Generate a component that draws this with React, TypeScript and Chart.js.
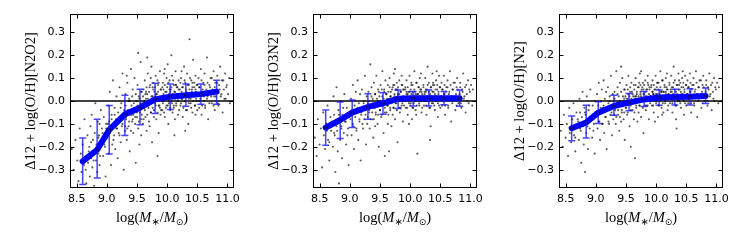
import { useEffect, useRef } from "react";
import { Chart, registerables } from "chart.js";
Chart.register(...registerables);

// ---- axes ----
const xMin = 8.39;
const xMax = 11.11;
const yMin = -0.38;
const yMax = 0.38;
const xTicks = [8.5, 9.0, 9.5, 10.0, 10.5, 11.0];
const yTicks = [-0.3, -0.2, -0.1, 0.0, 0.1, 0.2, 0.3];

// ---- binned medians (same mass bins for all panels) ----
const massBins = [8.6, 8.84, 9.04, 9.3, 9.55, 9.8, 10.05, 10.31, 10.56, 10.82];

const n2o2Median = [-0.264, -0.213, -0.126, -0.058, -0.029, 0.007, 0.019, 0.025, 0.03, 0.041];
const n2o2Low = [-0.365, -0.336, -0.232, -0.151, -0.104, -0.055, -0.037, -0.023, -0.014, -0.014];
const n2o2High = [-0.162, -0.08, -0.02, 0.025, 0.051, 0.077, 0.074, 0.074, 0.074, 0.091];

const o3n2Median = [-0.116, -0.083, -0.051, -0.026, -0.01, 0.01, 0.012, 0.012, 0.012, 0.012];
const o3n2Low = [-0.193, -0.164, -0.116, -0.08, -0.058, -0.033, -0.022, -0.022, -0.016, -0.023];
const o3n2High = [-0.039, -0.004, 0.004, 0.032, 0.036, 0.048, 0.042, 0.048, 0.042, 0.048];

const n2Median = [-0.119, -0.094, -0.051, -0.022, -0.007, 0.007, 0.015, 0.017, 0.019, 0.022];
const n2Low = [-0.174, -0.162, -0.098, -0.062, -0.043, -0.024, -0.019, -0.017, -0.017, -0.011];
const n2High = [-0.065, -0.019, -0.003, 0.025, 0.033, 0.042, 0.048, 0.051, 0.054, 0.057];

// ---- individual galaxies (x, y pairs, flat): scattered envelope ----
const n2o2Cloud = [
  8.42,-0.21,8.45,-0.30,8.48,-0.17,8.51,-0.26,8.53,-0.35,8.55,-0.12,8.57,-0.23,8.58,-0.31,8.60,-0.19,8.62,-0.28,8.63,-0.08,8.65,-0.24,8.66,-0.36,8.68,-0.15,8.69,-0.27,
  8.71,-0.20,8.72,-0.33,8.73,-0.11,8.74,-0.25,8.75,-0.06,8.76,-0.29,8.77,-0.17,8.78,-0.22,8.79,-0.37,8.80,-0.14,8.81,-0.01,8.82,-0.26,8.83,-0.19,8.84,-0.31,8.85,-0.09,8.86,-0.23,8.87,-0.15,8.88,-0.28,8.90,-0.04,8.91,-0.18,8.92,-0.12,8.94,-0.24,8.95,-0.07,8.97,-0.20,8.98,-0.33,8.99,-0.10,
  9.01,-0.16,9.02,-0.02,9.03,-0.23,9.04,-0.09,9.05,0.04,9.06,-0.13,9.07,-0.28,9.08,-0.06,9.09,-0.19,9.10,0.09,9.11,-0.11,9.12,-0.15,9.13,-0.03,9.14,-0.21,9.15,-0.08,9.16,0.02,9.17,-0.12,9.18,-0.25,9.19,-0.05,9.20,-0.14,9.21,0.06,9.22,-0.09,9.23,-0.18,9.24,-0.01,9.25,-0.11,9.26,0.12,9.27,-0.07,9.28,-0.30,9.29,-0.04,9.30,-0.13,
  9.31,0.03,9.32,-0.08,9.33,-0.17,9.34,0.08,9.35,-0.04,9.36,-0.11,9.37,0.01,9.38,-0.22,9.39,-0.06,9.40,0.14,9.41,-0.02,9.42,-0.09,9.43,0.05,9.44,-0.14,9.45,-0.03,9.46,0.10,9.47,-0.07,9.48,-0.27,9.49,0.00,9.50,-0.05,9.51,0.07,9.52,-0.12,9.53,0.02,9.54,-0.19,9.55,-0.04,9.56,0.17,9.57,-0.08,9.58,0.04,9.59,-0.01,9.60,-0.10,9.33,0.11,9.44,-0.06,9.52,0.21,9.38,0.00,9.57,-0.15,
  9.61,0.05,9.62,-0.03,9.63,0.09,9.64,-0.07,9.65,0.01,9.66,-0.13,9.67,0.03,9.68,0.12,9.69,-0.02,9.70,-0.09,9.71,0.06,9.72,0.00,9.73,-0.05,9.74,0.15,9.75,-0.18,9.76,0.02,9.77,0.08,9.78,-0.04,9.79,0.04,9.80,-0.01,9.81,0.11,9.82,-0.08,9.83,0.03,9.84,-0.24,9.85,0.07,9.86,-0.02,9.87,0.01,9.88,0.13,9.89,-0.06,9.90,0.05,9.63,-0.01,9.67,0.19,9.71,-0.11,9.76,0.06,9.80,0.02,9.84,0.09,9.88,-0.03,9.65,0.04,9.73,0.10,9.86,-0.14,
  9.91,0.02,9.92,-0.04,9.93,0.08,9.94,0.00,9.95,0.12,9.96,-0.07,9.97,0.04,9.98,0.01,9.99,-0.02,10.00,0.06,10.01,0.16,10.02,-0.10,10.03,0.03,10.04,0.09,10.05,-0.03,10.06,0.05,10.07,0.00,10.08,0.11,10.09,-0.05,10.10,0.02,10.11,0.07,10.12,-0.15,10.13,0.04,10.14,0.13,10.15,-0.01,10.16,0.06,10.17,0.02,10.18,-0.06,10.19,0.09,10.20,0.03,9.94,0.05,9.99,0.10,10.03,-0.01,10.07,0.20,10.11,-0.02,10.15,0.07,10.18,0.01,9.96,0.14,10.05,0.04,10.13,-0.08,
  10.21,0.05,10.22,-0.02,10.23,0.10,10.24,0.01,10.25,0.06,10.26,-0.07,10.27,0.03,10.28,0.15,10.29,0.00,10.30,0.08,10.31,-0.04,10.32,0.04,10.33,0.12,10.34,0.02,10.35,-0.10,10.36,0.07,10.37,0.27,10.38,0.03,10.39,-0.01,10.40,0.09,10.41,0.05,10.42,-0.05,10.43,0.18,10.44,0.02,10.45,0.06,10.46,-0.02,10.47,0.11,10.48,0.04,10.49,0.00,10.50,0.07,10.24,0.13,10.30,-0.13,10.36,0.01,10.42,0.08,10.47,-0.06,
  10.51,0.03,10.52,0.10,10.53,-0.03,10.54,0.06,10.55,0.01,10.56,0.14,10.57,-0.06,10.58,0.04,10.60,0.08,10.61,0.00,10.62,0.12,10.63,-0.02,10.65,0.05,10.66,0.19,10.67,0.02,10.68,-0.08,10.70,0.07,10.71,0.03,10.72,0.10,10.74,-0.01,10.75,0.05,10.77,0.13,10.78,0.02,10.79,-0.04,10.80,0.08,
  10.82,0.04,10.83,0.11,10.85,-0.02,10.86,0.07,10.88,0.15,10.89,0.02,10.91,0.09,10.92,-0.05,10.94,0.05,10.96,0.12,10.97,0.01,10.99,0.07,11.01,0.03,11.03,0.10,11.04,-0.01,
];

// dense core of the N2O2 distribution
const n2o2Core = [
  8.62,-0.25,8.65,-0.30,8.70,-0.22,8.74,-0.18,8.78,-0.26,8.82,-0.21,8.86,-0.16,8.88,-0.10,8.89,-0.24,8.93,-0.14,8.96,-0.19,8.99,-0.12,
  9.02,-0.10,9.05,-0.14,9.08,-0.08,9.11,-0.17,9.13,-0.06,9.16,-0.12,9.19,-0.09,9.21,-0.15,9.23,-0.03,9.26,-0.10,9.28,-0.06,9.30,-0.11,9.31,-0.02,9.32,-0.07,9.34,-0.12,9.35,-0.05,9.36,0.00,9.37,-0.09,9.39,-0.04,9.40,-0.13,
  9.41,-0.06,9.42,0.02,9.43,-0.08,9.45,-0.01,9.46,-0.05,9.47,-0.10,9.48,0.03,9.49,-0.03,9.50,-0.07,9.51,-0.02,9.53,-0.09,9.54,0.01,9.55,-0.05,9.56,-0.01,9.57,0.04,9.58,-0.06,9.59,-0.03,9.60,0.02,9.61,-0.08,9.62,0.00,
  9.63,-0.04,9.64,0.03,9.65,-0.02,9.66,0.06,9.67,-0.06,9.68,0.01,9.69,-0.03,9.70,0.04,9.71,-0.01,9.72,0.07,9.73,-0.05,9.74,0.02,9.75,0.00,9.76,-0.03,9.77,0.05,9.78,-0.07,9.79,0.01,9.80,0.06,9.81,-0.02,9.82,0.03,
  9.83,0.00,9.84,-0.05,9.85,0.04,9.86,0.08,9.87,-0.02,9.88,0.02,9.89,0.05,9.90,-0.04,9.91,0.00,9.92,0.06,9.93,-0.01,9.94,0.03,9.95,-0.05,9.96,0.07,9.97,0.01,9.98,-0.03,9.99,0.04,10.00,0.02,10.01,-0.02,10.02,0.08,
  10.03,0.00,10.04,0.05,10.05,-0.04,10.06,0.02,10.07,0.06,10.08,-0.01,10.09,0.03,10.10,0.09,10.11,-0.03,10.12,0.04,10.13,0.01,10.14,0.07,10.15,-0.02,10.16,0.03,10.17,0.06,10.18,0.00,10.19,0.05,10.20,-0.04,10.21,0.02,10.22,0.08,
  10.23,-0.01,10.24,0.04,10.25,0.01,10.26,0.06,10.27,-0.03,10.28,0.03,10.29,0.09,10.30,0.00,10.31,0.05,10.32,0.02,10.33,-0.04,10.34,0.07,10.35,0.03,10.36,-0.01,10.37,0.05,10.38,0.10,10.39,0.01,10.40,-0.03,10.41,0.04,10.42,0.06,
  10.43,0.00,10.44,0.03,10.45,0.08,10.46,-0.02,10.47,0.05,10.48,0.01,10.49,0.07,10.50,-0.04,10.52,0.03,10.53,0.06,10.54,0.00,10.56,0.04,10.57,0.09,10.58,-0.02,10.59,0.05,10.61,0.02,10.62,0.07,10.63,-0.03,10.64,0.04,10.66,0.01,
  10.67,0.08,10.69,0.03,10.70,-0.01,10.71,0.06,10.73,0.02,10.74,0.10,10.76,0.04,10.77,-0.02,10.79,0.06,10.81,0.02,10.83,0.08,10.84,-0.01,10.87,0.05,10.90,0.03,10.93,0.09,10.95,0.01,10.98,0.06,
];

const o3n2Cloud = [
  8.42,-0.16,8.45,-0.24,8.47,-0.08,8.50,-0.19,8.52,-0.12,8.54,-0.29,8.56,-0.05,8.57,-0.15,8.59,-0.21,8.61,-0.10,8.63,-0.02,8.64,-0.17,8.66,-0.26,8.68,-0.07,8.69,-0.13,
  8.71,-0.11,8.72,-0.20,8.73,0.02,8.74,-0.06,8.75,-0.15,8.76,-0.31,8.77,-0.09,8.78,0.06,8.79,-0.13,8.80,-0.22,8.81,-0.04,8.82,-0.36,8.83,-0.08,8.84,-0.17,8.85,0.00,8.86,-0.11,8.87,-0.25,8.88,-0.06,8.90,-0.14,8.91,0.03,8.92,-0.09,8.94,-0.19,8.95,-0.03,8.97,-0.12,8.98,-0.28,8.99,-0.05,
  9.01,-0.08,9.02,0.01,9.03,-0.15,9.04,-0.04,9.05,0.07,9.06,-0.11,9.07,-0.21,9.08,-0.02,9.09,-0.07,9.10,0.04,9.11,-0.13,9.12,-0.05,9.13,0.09,9.14,-0.17,9.15,-0.01,9.16,-0.09,9.17,0.03,9.18,-0.26,9.19,-0.06,9.20,0.05,9.21,-0.03,9.22,-0.12,9.23,0.00,9.24,-0.08,9.25,0.11,9.26,-0.04,9.27,-0.19,9.28,0.02,9.29,-0.10,9.30,-0.01,
  9.31,0.04,9.32,-0.05,9.33,-0.12,9.34,0.16,9.35,-0.02,9.36,0.06,9.37,-0.08,9.38,0.01,9.39,-0.16,9.40,0.08,9.41,-0.03,9.42,0.03,9.43,-0.06,9.44,0.11,9.45,-0.01,9.46,-0.10,9.47,0.05,9.48,-0.20,9.49,0.02,9.50,-0.04,9.51,0.07,9.52,-0.07,9.53,0.00,9.54,0.13,9.55,-0.02,9.56,-0.14,9.57,0.04,9.58,-0.05,9.59,0.09,9.60,-0.01,9.36,-0.03,9.42,-0.11,9.47,0.00,9.53,0.05,9.58,-0.24,
  9.61,0.03,9.62,-0.02,9.63,0.07,9.64,-0.06,9.65,0.01,9.66,0.10,9.67,-0.04,9.68,0.04,9.69,-0.11,9.70,0.00,9.71,0.06,9.72,-0.03,9.73,0.12,9.74,0.02,9.75,-0.08,9.76,0.05,9.77,-0.01,9.78,0.08,9.79,-0.18,9.80,0.03,9.81,0.00,9.82,0.09,9.83,-0.05,9.84,0.04,9.85,0.01,9.86,-0.02,9.87,0.07,9.88,-0.09,9.89,0.05,9.90,0.02,9.63,-0.10,9.67,0.02,9.71,-0.06,9.75,0.14,9.79,0.05,9.82,-0.03,9.86,0.11,9.65,-0.22,9.74,0.07,9.88,0.00,
  9.91,0.01,9.92,0.06,9.93,-0.03,9.94,0.09,9.95,0.02,9.96,-0.06,9.97,0.04,9.98,0.00,9.99,0.11,10.00,-0.02,10.01,0.05,10.02,0.03,10.03,-0.08,10.04,0.07,10.05,0.01,10.06,-0.01,10.07,0.13,10.08,0.04,10.09,-0.04,10.10,0.02,10.11,0.08,10.12,-0.23,10.13,0.03,10.14,0.06,10.15,-0.02,10.16,0.10,10.17,0.00,10.18,0.05,10.19,-0.05,10.20,0.03,9.94,0.04,9.98,-0.10,10.02,0.08,10.06,0.02,10.10,-0.06,10.14,0.01,10.18,0.12,9.96,0.03,10.04,-0.03,10.16,0.04,
  10.21,0.02,10.22,0.07,10.23,-0.02,10.24,0.04,10.25,0.10,10.26,0.00,10.27,-0.06,10.28,0.05,10.29,0.15,10.30,0.01,10.31,0.08,10.32,-0.03,10.33,0.03,10.34,-0.11,10.35,0.06,10.36,0.02,10.37,0.12,10.38,-0.01,10.39,0.04,10.40,0.07,10.41,-0.04,10.42,0.02,10.43,0.09,10.44,0.00,10.45,0.05,10.46,-0.07,10.47,0.03,10.48,0.11,10.49,0.01,10.50,0.06,10.26,0.04,10.33,-0.17,10.38,0.07,10.44,0.13,10.48,-0.02,
  10.51,0.02,10.52,0.08,10.53,-0.02,10.54,0.05,10.55,0.00,10.56,0.11,10.57,0.03,10.58,-0.06,10.60,0.06,10.61,0.01,10.62,0.09,10.63,-0.03,10.65,0.04,10.66,0.13,10.67,0.02,10.68,-0.09,10.70,0.05,10.71,0.00,10.72,0.08,10.74,0.02,10.75,-0.04,10.77,0.06,10.78,0.10,10.79,0.01,10.80,-0.01,
  10.82,0.03,10.83,0.08,10.85,-0.03,10.86,0.05,10.88,0.12,10.89,0.01,10.91,0.06,10.92,-0.05,10.94,0.03,10.96,0.09,10.97,-0.01,10.99,0.04,11.01,0.07,11.03,-0.02,11.04,0.05,
];

const o3n2Core = [
  8.62,-0.13,8.66,-0.18,8.70,-0.09,8.74,-0.14,8.78,-0.11,8.82,-0.06,8.86,-0.12,8.89,-0.03,8.93,-0.09,8.96,-0.15,8.99,-0.07,
  9.02,-0.06,9.05,-0.10,9.08,-0.04,9.11,-0.12,9.13,-0.03,9.16,-0.08,9.19,-0.05,9.21,-0.10,9.23,-0.01,9.26,-0.06,9.28,-0.03,9.30,-0.07,9.31,0.00,9.32,-0.04,9.34,-0.08,9.35,-0.02,9.36,0.02,9.37,-0.05,9.39,-0.01,9.40,-0.08,
  9.41,-0.03,9.42,0.03,9.43,-0.05,9.45,0.01,9.46,-0.02,9.47,-0.06,9.48,0.04,9.49,-0.01,9.50,-0.04,9.51,0.00,9.53,-0.06,9.54,0.02,9.55,-0.02,9.56,0.01,9.57,0.05,9.58,-0.03,9.59,0.00,9.60,0.03,9.61,-0.05,9.62,0.01,
  9.63,-0.02,9.64,0.04,9.65,0.00,9.66,0.06,9.67,-0.03,9.68,0.02,9.69,-0.01,9.70,0.05,9.71,0.01,9.72,0.07,9.73,-0.03,9.74,0.03,9.75,0.01,9.76,-0.01,9.77,0.05,9.78,-0.04,9.79,0.02,9.80,0.06,9.81,0.00,9.82,0.03,
  9.83,0.01,9.84,-0.03,9.85,0.04,9.86,0.07,9.87,-0.01,9.88,0.02,9.89,0.05,9.90,-0.02,9.91,0.01,9.92,0.05,9.93,0.00,9.94,0.03,9.95,-0.03,9.96,0.06,9.97,0.01,9.98,-0.01,9.99,0.04,10.00,0.02,10.01,-0.01,10.02,0.07,
  10.03,0.01,10.04,0.04,10.05,-0.03,10.06,0.02,10.07,0.05,10.08,0.00,10.09,0.03,10.10,0.08,10.11,-0.02,10.12,0.03,10.13,0.01,10.14,0.06,10.15,-0.01,10.16,0.02,10.17,0.05,10.18,0.00,10.19,0.04,10.20,-0.03,10.21,0.01,10.22,0.06,
  10.23,0.00,10.24,0.03,10.25,0.01,10.26,0.05,10.27,-0.02,10.28,0.02,10.29,0.07,10.30,0.00,10.31,0.04,10.32,0.01,10.33,-0.03,10.34,0.06,10.35,0.02,10.36,-0.01,10.37,0.04,10.38,0.08,10.39,0.01,10.40,-0.02,10.41,0.03,10.42,0.05,
  10.43,0.00,10.44,0.02,10.45,0.07,10.46,-0.01,10.47,0.04,10.48,0.01,10.49,0.06,10.50,-0.03,10.52,0.02,10.53,0.05,10.54,0.00,10.56,0.03,10.57,0.07,10.58,-0.02,10.59,0.04,10.61,0.01,10.62,0.06,10.63,-0.02,10.64,0.03,10.66,0.01,
  10.67,0.07,10.69,0.02,10.70,-0.01,10.71,0.05,10.73,0.01,10.74,0.08,10.76,0.03,10.77,-0.02,10.79,0.05,10.81,0.01,10.83,0.06,10.84,-0.01,10.87,0.04,10.90,0.02,10.93,0.07,10.95,0.00,10.98,0.05,
];

const n2Cloud = [
  8.42,-0.13,8.45,-0.20,8.47,-0.06,8.50,-0.16,8.52,-0.10,8.54,-0.24,8.56,-0.03,8.57,-0.14,8.59,-0.18,8.61,-0.08,8.63,-0.01,8.64,-0.15,8.66,-0.22,8.68,-0.05,8.69,-0.11,
  8.71,-0.09,8.72,-0.17,8.73,0.01,8.74,-0.05,8.75,-0.13,8.76,-0.27,8.77,-0.07,8.78,0.04,8.79,-0.11,8.80,-0.19,8.81,-0.03,8.82,-0.31,8.83,-0.06,8.84,-0.14,8.85,0.02,8.86,-0.09,8.87,-0.21,8.88,-0.04,8.90,-0.12,8.91,0.05,8.92,-0.07,8.94,-0.16,8.95,-0.02,8.97,-0.10,8.98,-0.23,8.99,0.00,
  9.01,-0.06,9.02,0.03,9.03,-0.12,9.04,-0.02,9.05,0.08,9.06,-0.09,9.07,-0.17,9.08,0.00,9.09,-0.05,9.10,0.05,9.11,-0.10,9.12,-0.03,9.13,0.09,9.14,-0.14,9.15,0.01,9.16,-0.07,9.17,0.04,9.18,-0.21,9.19,-0.04,9.20,0.06,9.21,-0.01,9.22,-0.10,9.23,0.02,9.24,-0.06,9.25,0.11,9.26,-0.02,9.27,-0.15,9.28,0.03,9.29,-0.08,9.30,0.00,
  9.31,0.04,9.32,-0.04,9.33,-0.10,9.34,0.13,9.35,-0.01,9.36,0.06,9.37,-0.06,9.38,0.02,9.39,-0.13,9.40,0.08,9.41,-0.02,9.42,0.15,9.43,-0.05,9.44,0.10,9.45,0.00,9.46,-0.08,9.47,0.05,9.48,-0.17,9.49,0.02,9.50,-0.03,9.51,0.07,9.52,-0.06,9.53,0.01,9.54,0.11,9.55,-0.01,9.56,-0.11,9.57,0.04,9.58,-0.04,9.59,0.08,9.60,0.00,9.36,-0.02,9.42,-0.09,9.47,0.01,9.53,0.05,9.58,-0.20,
  9.61,0.03,9.62,-0.01,9.63,0.07,9.64,-0.05,9.65,0.02,9.66,0.10,9.67,-0.03,9.68,0.04,9.69,-0.09,9.70,0.01,9.71,0.06,9.72,-0.02,9.73,0.12,9.74,0.03,9.75,-0.07,9.76,0.05,9.77,0.00,9.78,0.08,9.79,-0.14,9.80,0.03,9.81,0.01,9.82,0.09,9.83,-0.04,9.84,0.05,9.85,0.02,9.86,-0.02,9.87,0.07,9.88,-0.08,9.89,0.05,9.90,0.02,9.63,-0.08,9.67,0.02,9.71,-0.05,9.75,0.13,9.79,0.05,9.82,-0.02,9.86,0.11,9.65,-0.25,9.74,0.07,9.88,0.01,
  9.91,0.02,9.92,0.07,9.93,-0.02,9.94,0.09,9.95,0.03,9.96,-0.05,9.97,0.05,9.98,0.01,9.99,0.11,10.00,-0.01,10.01,0.06,10.02,0.03,10.03,-0.07,10.04,0.08,10.05,0.02,10.06,0.00,10.07,0.13,10.08,0.04,10.09,-0.03,10.10,0.02,10.11,0.09,10.12,-0.05,10.13,0.04,10.14,0.06,10.15,-0.01,10.16,0.10,10.17,0.01,10.18,0.05,10.19,-0.04,10.20,0.03,9.94,0.04,9.98,-0.09,10.02,0.08,10.06,0.02,10.10,-0.06,10.14,0.01,10.18,0.12,9.96,0.03,10.04,-0.02,10.16,0.04,
  10.21,0.03,10.22,0.08,10.23,-0.01,10.24,0.05,10.25,0.11,10.26,0.01,10.27,-0.05,10.28,0.06,10.29,0.15,10.30,0.02,10.31,0.09,10.32,-0.02,10.33,0.04,10.34,-0.12,10.35,0.07,10.36,0.02,10.37,0.12,10.38,0.00,10.39,0.05,10.40,0.08,10.41,-0.03,10.42,0.03,10.43,0.10,10.44,0.01,10.45,0.06,10.46,-0.06,10.47,0.04,10.48,0.11,10.49,0.02,10.50,0.07,10.26,0.04,10.33,-0.08,10.38,0.07,10.44,0.13,10.48,-0.01,
  10.51,0.03,10.52,0.09,10.53,-0.01,10.54,0.06,10.55,0.01,10.56,0.12,10.57,0.04,10.58,-0.05,10.60,0.07,10.61,0.02,10.62,0.10,10.63,-0.02,10.65,0.05,10.66,0.13,10.67,0.03,10.68,-0.07,10.70,0.06,10.71,0.01,10.72,0.09,10.74,0.03,10.75,-0.03,10.77,0.07,10.78,0.11,10.79,0.02,10.80,0.00,
  10.82,0.04,10.83,0.09,10.85,-0.02,10.86,0.06,10.88,0.12,10.89,0.02,10.91,0.07,10.92,-0.04,10.94,0.04,10.96,0.10,10.97,0.00,10.99,0.05,11.01,0.08,11.03,-0.01,11.04,0.06,
];

const n2Core = [
  8.62,-0.12,8.66,-0.16,8.70,-0.08,8.74,-0.12,8.78,-0.10,8.82,-0.05,8.86,-0.11,8.89,-0.02,8.93,-0.08,8.96,-0.13,8.99,-0.05,
  9.02,-0.05,9.05,-0.09,9.08,-0.03,9.11,-0.10,9.13,-0.02,9.16,-0.07,9.19,-0.04,9.21,-0.09,9.23,0.00,9.26,-0.05,9.28,-0.02,9.30,-0.06,9.31,0.01,9.32,-0.03,9.34,-0.07,9.35,-0.01,9.36,0.03,9.37,-0.04,9.39,0.00,9.40,-0.07,
  9.41,-0.02,9.42,0.04,9.43,-0.04,9.45,0.02,9.46,-0.01,9.47,-0.05,9.48,0.05,9.49,0.00,9.50,-0.03,9.51,0.01,9.53,-0.05,9.54,0.03,9.55,-0.01,9.56,0.02,9.57,0.06,9.58,-0.02,9.59,0.01,9.60,0.04,9.61,-0.04,9.62,0.02,
  9.63,-0.01,9.64,0.05,9.65,0.01,9.66,0.07,9.67,-0.02,9.68,0.03,9.69,0.00,9.70,0.06,9.71,0.02,9.72,0.08,9.73,-0.02,9.74,0.04,9.75,0.02,9.76,0.00,9.77,0.06,9.78,-0.03,9.79,0.03,9.80,0.07,9.81,0.01,9.82,0.04,
  9.83,0.02,9.84,-0.02,9.85,0.05,9.86,0.08,9.87,0.00,9.88,0.03,9.89,0.06,9.90,-0.01,9.91,0.02,9.92,0.06,9.93,0.01,9.94,0.04,9.95,-0.02,9.96,0.07,9.97,0.02,9.98,0.00,9.99,0.05,10.00,0.03,10.01,0.00,10.02,0.08,
  10.03,0.02,10.04,0.05,10.05,-0.02,10.06,0.03,10.07,0.06,10.08,0.01,10.09,0.04,10.10,0.09,10.11,-0.01,10.12,0.04,10.13,0.02,10.14,0.07,10.15,0.00,10.16,0.03,10.17,0.06,10.18,0.01,10.19,0.05,10.20,-0.02,10.21,0.02,10.22,0.07,
  10.23,0.01,10.24,0.04,10.25,0.02,10.26,0.06,10.27,-0.01,10.28,0.03,10.29,0.08,10.30,0.01,10.31,0.05,10.32,0.02,10.33,-0.02,10.34,0.07,10.35,0.03,10.36,0.00,10.37,0.05,10.38,0.09,10.39,0.02,10.40,-0.01,10.41,0.04,10.42,0.06,
  10.43,0.01,10.44,0.03,10.45,0.08,10.46,0.00,10.47,0.05,10.48,0.02,10.49,0.07,10.50,-0.02,10.52,0.03,10.53,0.06,10.54,0.01,10.56,0.04,10.57,0.08,10.58,-0.01,10.59,0.05,10.61,0.02,10.62,0.07,10.63,-0.01,10.64,0.04,10.66,0.02,
  10.67,0.08,10.69,0.03,10.70,0.00,10.71,0.06,10.73,0.02,10.74,0.09,10.76,0.04,10.77,-0.01,10.79,0.06,10.81,0.02,10.83,0.07,10.84,0.00,10.87,0.05,10.90,0.03,10.93,0.08,10.95,0.01,10.98,0.06,
];

const yTitles = ["Δ12 + log(O/H)[N2O2]", "Δ12 + log(O/H)[O3N2]", "Δ12 + log(O/H)[N2]"];

const SERIF = '"Liberation Serif", "DejaVu Serif", serif';
const SANS = '"DejaVu Sans", sans-serif';

type Panel = { cloud: number[]; core: number[]; median: number[]; low: number[]; high: number[]; title: string; left: number };

const panels: Panel[] = [
  { cloud: n2o2Cloud, core: n2o2Core, median: n2o2Median, low: n2o2Low, high: n2o2High, title: yTitles[0], left: 0 },
  { cloud: o3n2Cloud, core: o3n2Core, median: o3n2Median, low: o3n2Low, high: o3n2High, title: yTitles[1], left: 243 },
  { cloud: n2Cloud, core: n2Core, median: n2Median, low: n2Low, high: n2High, title: yTitles[2], left: 489 },
];

const frame = {
  id: "frame",
  afterDraw(chart: any) {
    const { ctx, chartArea: a, scales } = chart;
    const L = Math.round(a.left) + 0.5, R = Math.round(a.right) - 0.5;
    const T = Math.round(a.top) + 0.5, B = Math.round(a.bottom) - 0.5;
    ctx.save();
    ctx.strokeStyle = "#000";
    ctx.lineWidth = 1;
    ctx.beginPath();
    for (const t of scales.x.ticks) {
      const px = Math.round(scales.x.getPixelForValue(t.value)) + 0.5;
      ctx.moveTo(px, B); ctx.lineTo(px, B - 4);
      ctx.moveTo(px, T); ctx.lineTo(px, T + 4);
    }
    for (const t of scales.y.ticks) {
      const py = Math.round(scales.y.getPixelForValue(t.value)) + 0.5;
      ctx.moveTo(L, py); ctx.lineTo(L + 4, py);
      ctx.moveTo(R, py); ctx.lineTo(R - 4, py);
    }
    ctx.stroke();
    ctx.strokeRect(L, T, R - L, B - T);
    ctx.restore();
  },
};

const errbars = {
  id: "errbars",
  afterDatasetsDraw(chart: any, _args: any, opts: any) {
    const { ctx, scales } = chart;
    ctx.save();
    ctx.strokeStyle = "rgba(20,20,255,0.8)";
    ctx.lineWidth = 1.5;
    ctx.beginPath();
    opts.x.forEach((xv: number, i: number) => {
      const px = scales.x.getPixelForValue(xv);
      const p1 = scales.y.getPixelForValue(opts.low[i]);
      const p2 = scales.y.getPixelForValue(opts.high[i]);
      ctx.moveTo(px, p1); ctx.lineTo(px, p2);
      ctx.moveTo(px - 3.5, p1); ctx.lineTo(px + 3.5, p1);
      ctx.moveTo(px - 3.5, p2); ctx.lineTo(px + 3.5, p2);
    });
    ctx.stroke();
    ctx.restore();
  },
};

function drawRich(ctx: CanvasRenderingContext2D, segs: { t: string; f: string; dy?: number }[], cx: number, by: number) {
  let w = 0;
  for (const s of segs) { ctx.font = s.f; w += ctx.measureText(s.t).width; }
  let x = cx - w / 2;
  ctx.textBaseline = "alphabetic";
  ctx.textAlign = "left";
  for (const s of segs) {
    ctx.font = s.f;
    ctx.fillText(s.t, x, by + (s.dy || 0));
    x += ctx.measureText(s.t).width;
  }
}

const titles = {
  id: "titles",
  afterDraw(chart: any, _args: any, opts: any) {
    const { ctx, chartArea: a } = chart;
    ctx.save();
    ctx.fillStyle = "#000";
    ctx.translate(31, (a.top + a.bottom) / 2);
    ctx.rotate(-Math.PI / 2);
    ctx.font = `14.5px ${SERIF}`;
    ctx.textAlign = "center";
    ctx.textBaseline = "middle";
    ctx.fillText(opts.y, 0, 0);
    ctx.restore();
    ctx.save();
    ctx.fillStyle = "#000";
    const reg = `14.5px ${SERIF}`;
    const it = `italic 14.5px ${SERIF}`;
    drawRich(ctx, [
      { t: "log(", f: reg },
      { t: "M", f: it },
      { t: "∗", f: `10px ${SANS}`, dy: 3 },
      { t: "/", f: reg },
      { t: "M", f: it },
      { t: "⊙", f: `9px ${SANS}`, dy: 3 },
      { t: ")", f: reg },
    ], (a.left + a.right) / 2, 222);
    ctx.restore();
  },
};

function toPts(flat: number[]) {
  const out: { x: number; y: number }[] = [];
  for (let i = 0; i < flat.length; i += 2) out.push({ x: flat[i], y: flat[i + 1] });
  return out;
}

function PanelChart({ p }: { p: Panel }) {
  const ref = useRef<HTMLCanvasElement>(null);
  useEffect(() => {
    const medPts = massBins.map((x, i) => ({ x, y: p.median[i] }));
    const zeroPts = [{ x: xMin, y: 0 }, { x: xMax, y: 0 }];
    const dot = { pointRadius: 1.05, backgroundColor: "rgba(0,0,0,0.65)", borderWidth: 0 };
    const chart = new Chart(ref.current!, {
      type: "scatter",
      data: {
        datasets: [
          {
            type: "line", data: medPts, borderColor: "#0000ff", borderWidth: 6,
            pointRadius: 1.8, pointBackgroundColor: "#000050", pointBorderWidth: 0,
            borderJoinStyle: "round", borderCapStyle: "round", tension: 0, order: 0,
          } as any,
          { type: "line", data: zeroPts, borderColor: "#000", borderWidth: 1.3, pointRadius: 0, order: 1 } as any,
          { type: "scatter", data: toPts(p.core), ...dot, order: 2 } as any,
          { type: "scatter", data: toPts(p.cloud), ...dot, order: 3 } as any,
        ],
      },
      options: {
        animation: false,
        responsive: false,
        events: [],
        layout: { padding: { top: 14, right: 7, left: 0, bottom: 0 } },
        plugins: {
          legend: { display: false },
          tooltip: { enabled: false },
          errbars: { x: massBins, low: p.low, high: p.high },
          titles: { y: p.title },
        } as any,
        scales: {
          x: {
            type: "linear", min: xMin, max: xMax,
            grid: { display: false, drawTicks: false }, border: { display: false },
            ticks: { font: { family: SANS, size: 11 }, color: "#000", padding: 5, maxRotation: 0, callback: (v: any) => Number(v).toFixed(1) },
            afterBuildTicks: (s: any) => { s.ticks = xTicks.map((v) => ({ value: v })); },
            afterFit: (s: any) => { s.height = 53; },
          },
          y: {
            type: "linear", min: yMin, max: yMax,
            grid: { display: false, drawTicks: false }, border: { display: false },
            ticks: { font: { family: SANS, size: 11 }, color: "#000", padding: 5, callback: (v: any) => (Number(v) < -1e-9 ? "−" : "") + Math.abs(Number(v)).toFixed(1) },
            afterBuildTicks: (s: any) => { s.ticks = yTicks.map((v) => ({ value: v })); },
            afterFit: (s: any) => { s.width = 70; },
          },
        },
      },
      plugins: [frame, errbars, titles],
    });
    return () => chart.destroy();
  }, [p]);
  return (
    <canvas ref={ref} width={245} height={241}
      style={{ position: "absolute", left: p.left, top: 0, width: 245, height: 241 }} />
  );
}

export default function App() {
  return (
    <div style={{ position: "fixed", left: 0, top: 0, width: 747, height: 241, background: "#fff" }}>
      {panels.map((p, i) => <PanelChart key={i} p={p} />)}
    </div>
  );
}
